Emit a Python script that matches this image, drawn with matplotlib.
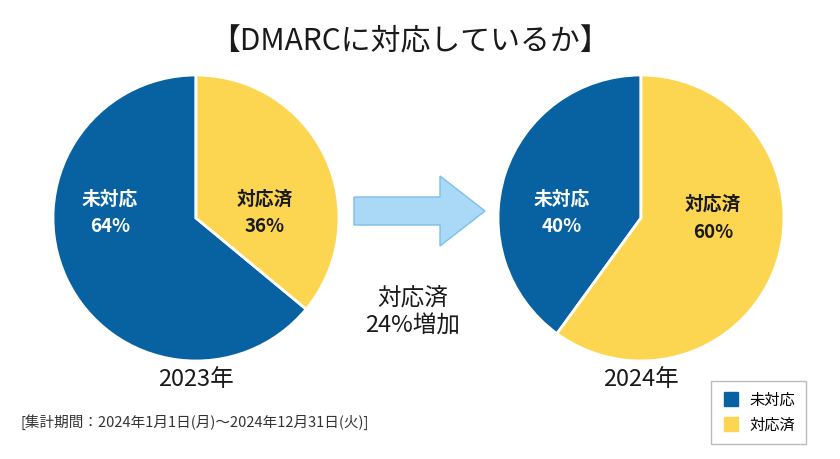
import matplotlib.pyplot as plt
from matplotlib.patches import FancyArrow
from matplotlib.lines import Line2D

plt.rcParams['font.family'] = ['Noto Sans CJK JP', 'DejaVu Sans']

labels = ['未対応', '対応済']
values_2023 = [64, 36]
values_2024 = [40, 60]
years = ['2023年', '2024年']
colors = ['#0862A1', '#FDD651']
text_colors = ['white', '#1a1a1a']

W, H = 840, 459
fig = plt.figure(figsize=(8.4, 4.59), dpi=100)
ax = fig.add_axes([0, 0, 1, 1])

def draw_pie(values, cx, cy, r, label_pos):
    ax.pie(values, colors=colors, startangle=90, counterclock=True,
           center=(cx, cy), radius=r, frame=True,
           wedgeprops=dict(edgecolor='white', linewidth=2))
    for lab, v, pos, tc in zip(labels, values, label_pos, text_colors):
        ax.text(pos[0], H - pos[1], f'{lab}\n{v}%', ha='center', va='center',
                fontsize=13.5, fontweight='bold', color=tc, linespacing=1.6)

draw_pie(values_2023, 196, H - 218, 143, [(110, 213), (265, 213)])
draw_pie(values_2024, 641, H - 218, 143, [(562, 213), (713, 218)])

ax.set_xlim(0, W)
ax.set_ylim(0, H)
ax.set_aspect('equal')
ax.axis('off')

# arrow
ax.add_patch(FancyArrow(354, H - 211, 131, 0, width=28, head_width=70,
                        head_length=45, length_includes_head=True,
                        facecolor='#A9D9F6', edgecolor='#7DBFE8', linewidth=1))

ax.text(413, H - 312, '対応済\n24%増加', ha='center', va='center',
        fontsize=17, color='#1a1a1a', linespacing=1.3)

ax.text(196, H - 379, years[0], ha='center', va='center', fontsize=17, color='#1a1a1a')
ax.text(641, H - 379, years[1], ha='center', va='center', fontsize=17, color='#1a1a1a')

ax.text(410, H - 42, '【DMARCに対応しているか】', ha='center', va='center',
        fontsize=21.5, color='#1a1a1a')

ax.text(20, H - 422, '[集計期間：2024年1月1日(月)～2024年12月31日(火)]',
        ha='left', va='center', fontsize=10.5, color='#333333')

handles = [Line2D([], [], marker='s', linestyle='none', markersize=10,
                  markerfacecolor=c, markeredgecolor=c) for c in colors]
ax.legend(handles, labels, loc='upper left', bbox_to_anchor=(711 / W, 1 - 381 / H),
          bbox_transform=fig.transFigure, fontsize=11, frameon=True,
          fancybox=False, edgecolor='#aaaaaa', handletextpad=0.6,
          handlelength=1.2, borderpad=0.7, labelspacing=0.5,
          borderaxespad=0)

fig.savefig('out.png', dpi=100, facecolor='white')
